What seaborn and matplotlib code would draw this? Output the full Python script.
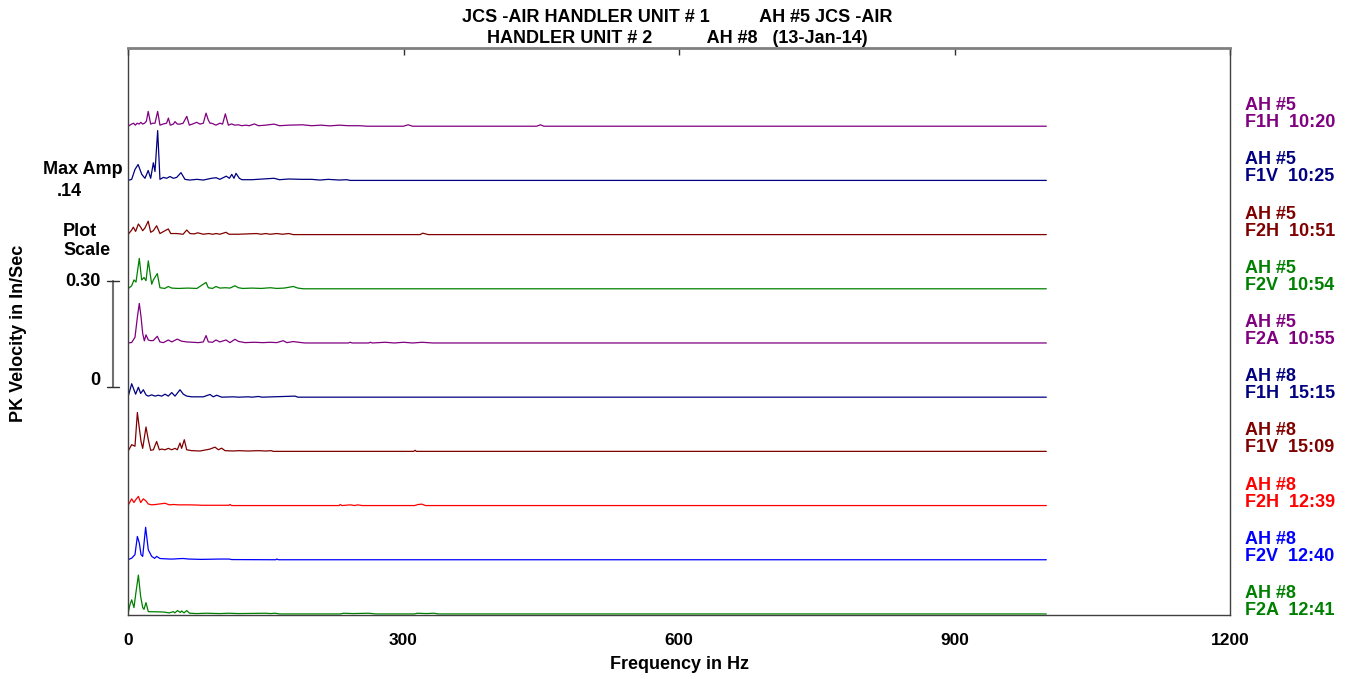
import numpy as np
import pandas as pd
import matplotlib
matplotlib.use("Agg")
import matplotlib.pyplot as plt
import matplotlib.transforms as mtransforms
import seaborn as sns

# ---------------- data (Hz, PK velocity in/s) ----------------
A5_F1H = [(0,0),(4,.006),(6,.0085),(8,.003),(10,.0085),(12,.006),(14,.011),(16,.006),(18,.0085),(20,.014),
          (22,.042),(24.7,.006),(27,.0085),(29.4,.0085),(32.3,.042),(34.8,.003),(38,.006),(42,.0085),(44,.023),
          (46,.003),(49.4,.006),(51.2,.013),(53.7,.006),(56.6,.006),(60,.0085),(64,.028),(66.8,.003),(70,.006),
          (74.8,.011),(78.4,.006),(82,.0085),(85,.037),(87.5,.017),(89.3,.0085),(91.1,.0085),(95.8,.003),(100,.0085),
          (103,.006),(106,.035),(109.3,.003),(112.9,.0065),(116,.003),(120,.004),(124,.0014),(128,.003),(132,.0014),
          (137.6,.0065),(142,.0014),(150,.003),(159,.006),(165,.0014),(175,.003),(190,.004),(200,.0014),(210,.003),
          (220,.001),(230,.003),(240,.0014),(253,.0014),(260,0),(300,0),(305,.004),(310,0),(445,0),(449,.004),
          (453,0),(1000,0)]
A5_F1V = [(0,0),(4,.003),(7.6,.031),(11,.045),(15,.017),(18.5,.006),(22,.028),(24.7,.006),(27.6,.050),(29.4,.025),
          (32.3,.141),(34.8,.003),(38.5,.0085),(42.1,.006),(45.7,.011),(49.4,.006),(53,.0085),(57.7,.022),(62,.003),
          (67,.001),(75,.003),(82,.001),(91,.006),(96,.0076),(100,.003),(107,.012),(110.4,.006),(113,.017),(115.4,.006),
          (117.6,.020),(121.2,.006),(124,.002),(135,.002),(147,.004),(159,.006),(165,.002),(175,.004),(189,.003),
          (200,.003),(209,.001),(218,.003),(230,.001),(238,.002),(242,0),(1000,0)]
A5_F2H = [(0,0),(4,.013),(5.8,.021),(8.3,.009),(11.3,.030),(13.8,.021),(16,.011),(18.5,.019),(22,.038),(24.7,.0065),
          (27.6,.011),(31.2,.025),(34.8,.003),(38.5,.0085),(43.9,.016),(46.5,.003),(53,.003),(60,.001),(64,.013),
          (67.5,.003),(72,.002),(76,.005),(82,.001),(88,.003),(92,.001),(96,.003),(100,.001),(106.7,.0065),(110,.001),
          (120,.001),(140,.003),(145,.001),(150,.003),(155,.001),(162,.003),(168,.001),(175,.003),(180,0),(318,0),
          (321,.004),(324,.002),(327,0),(1000,0)]
A5_F2V = [(0,0),(4,.0085),(6.5,.025),(8.7,.019),(12.3,.086),(14.9,.025),(17.4,.032),(19.6,.023),(22.1,.079),
          (25.8,.013),(27.6,.025),(31.9,.043),(34.8,.003),(40,.001),(43.9,.0065),(47.6,.002),(55,.001),(65,.002),
          (75,.001),(85,.018),(87.5,.003),(92,.001),(95.8,.0065),(100,.002),(106,.003),(111,.002),(116.5,.0085),
          (120.2,.003),(125,.001),(135,.002),(145,.001),(155,.003),(162,.001),(170,.002),(180,.0065),(185,.002),
          (191,0),(1000,0)]
A5_F2A = [(0,0),(4,.0014),(7.6,.016),(10.2,.073),(12.3,.112),(14.2,.074),(16,.027),(17.8,.006),(19.6,.023),
          (22.1,.0085),(24.7,.0065),(27.6,.007),(31.9,.019),(34.8,.003),(38.5,.001),(43.9,.0085),(47.6,.003),
          (53.7,.011),(58.4,.005),(64,.003),(76.6,.001),(82,.003),(85,.021),(87.5,.003),(92,.002),(95.8,.0085),
          (100,.003),(106.7,.0085),(111,.001),(116.5,.0105),(120.2,.0045),(127.4,.001),(137,.002),(147,.001),
          (155,.002),(162,.001),(169,.0065),(173,.001),(180,.004),(189,.001),(193,0),(240,0),(242,.002),(244,0),
          (262,0),(264,.002),(266,0),(280,.002),(290,0),(300,.002),(310,0),(320,.002),(332,0),(1000,0)]
A8_F1H = [(0,0),(4,.038),(6.5,.021),(8.3,.0085),(11.3,.028),(13.8,.0105),(16.7,.021),(19.6,.0065),(22,.003),
          (25.8,.0065),(29.4,.003),(33,.0055),(36.7,.003),(40.3,.0085),(43.9,.003),(47.6,.013),(51.2,.003),
          (56.6,.021),(60.2,.0085),(64,.003),(69.3,.001),(82,.001),(89.3,.0076),(92.9,.001),(96.6,.0055),(102,0),
          (114.7,.001),(120,0),(131,.001),(135,0),(142,.002),(146,0),(182,.003),(185,0),(1000,0)]
A8_F1V = [(0,0),(4,.019),(7.6,.0145),(10.2,.110),(12.3,.066),(14.2,.028),(16,.0085),(19.6,.069),(22.1,.033),
          (24.7,.003),(27.6,.0045),(31.2,.028),(34.1,.0045),(36.7,.0065),(40.3,.0045),(43.9,.0085),(47.6,.0045),
          (51.2,.0085),(53.7,.0045),(56.6,.0235),(58.4,.0085),(61.3,.033),(63.9,.0045),(69.3,.002),(78.4,.001),
          (89.3,.0065),(94.7,.012),(98.4,.0045),(102,.009),(105.6,.002),(114.7,.001),(120,.002),(131,.001),
          (142,.002),(150,.001),(156,.002),(158,0),(311,0),(312.6,.003),(314,0),(1000,0)]
A8_F2H = [(0,0),(4,.019),(6.5,.0085),(8.3,.016),(11.3,.026),(13.8,.0085),(16.7,.019),(19.6,.013),(22,.0045),
          (25.8,.002),(30,.003),(40.3,.0065),(45,.002),(49.4,.003),(55,.002),(60,.002),(66,.002),(75,.0015),
          (80,.0008),(110,.0008),(111,.003),(113,0),(230,0),(231,.003),(233,0),(242,.002),(247,0),(250,.002),
          (255,0),(312,0),(316,.003),(320,.004),(324,0),(1000,0)]
A8_F2V = [(0,0),(4,.0045),(7.6,.0145),(10.2,.066),(12.3,.0475),(14.2,.0145),(16,.0095),(19.2,.092),(22.1,.028),
          (25.8,.0095),(29,.004),(31.2,.0095),(34.8,.0035),(45,.002),(49.4,.002),(55,.003),(60.2,.0035),(66,.002),
          (80,.001),(100,.002),(110,.002),(113,.0005),(161,0),(162,.002),(164,0),(1000,0)]
A8_F2A = [(0,0),(2,.025),(4,.040),(6.5,.018),(8.7,.062),(11.3,.110),(13.8,.049),(16,.018),(17.4,.013),(19.6,.032),
          (22.1,.0065),(31,.006),(38.5,.0055),(45,.003),(49.4,.0065),(51,.003),(54,.0095),(57,.004),(58.4,.0085),
          (61,.003),(64,.0095),(67,.002),(75,.001),(85,.002),(100,.001),(110,.002),(120,.001),(150,.002),(155,.001),
          (160,.002),(165,0),(231,0),(235,.002),(245,.001),(262,.002),(270,0),(312,0),(315,.002),(325,.001),
          (333,.002),(338,0),(1000,0)]

# top to bottom
trace_labels = ["AH #5\nF1H  10:20", "AH #5\nF1V  10:25", "AH #5\nF2H  10:51", "AH #5\nF2V  10:54",
                "AH #5\nF2A  10:55", "AH #8\nF1H  15:15", "AH #8\nF1V  15:09", "AH #8\nF2H  12:39",
                "AH #8\nF2V  12:40", "AH #8\nF2A  12:41"]
trace_data = [A5_F1H, A5_F1V, A5_F2H, A5_F2V, A5_F2A, A8_F1H, A8_F1V, A8_F2H, A8_F2V, A8_F2A]
trace_colors = ["#800080", "#000080", "#800000", "#008000", "#800080",
                "#000080", "#800000", "#FF0000", "#0000FF", "#008000"]

x_ticks = [0, 300, 600, 900, 1200]
max_amp = ".14"
scale_value = 0.30
title = ("JCS -AIR HANDLER UNIT # 1          AH #5 JCS -AIR\n"
         "HANDLER UNIT # 2           AH #8   (13-Jan-14)")

# ---------------- layout ----------------
STEP = 0.1534      # offset between stacked spectra (in/s)
BASE0 = 0.003      # baseline of the bottom spectrum
YMAX = 1.605
SCALE_BOTTOM = 0.645
FS = 13

sns.set_style("white")
plt.rcParams["font.family"] = ["Liberation Sans", "DejaVu Sans"]
plt.rcParams["font.weight"] = "bold"
plt.rcParams["text.color"] = "black"
plt.rcParams["axes.labelcolor"] = "black"
plt.rcParams["xtick.color"] = "black"

n = len(trace_data)
rows = []
for i, (lab, pts) in enumerate(zip(trace_labels, trace_data)):
    base = BASE0 + (n - 1 - i) * STEP
    for f, a in pts:
        rows.append({"trace": lab, "freq": f, "amp": a, "y": a + base})
df = pd.DataFrame(rows)

fig = plt.figure(figsize=(13.47, 6.79), dpi=100)
ax = fig.add_axes([128/1347, 1-615/679, 1102/1347, 567/679])

sns.lineplot(data=df, x="freq", y="y", hue="trace", hue_order=trace_labels,
             palette=dict(zip(trace_labels, trace_colors)), estimator=None, sort=False,
             legend=False, linewidth=0.9, ax=ax)

ax.set_xlim(0, 1200)
ax.set_ylim(0, YMAX)
ax.set_xticks(x_ticks)
ax.set_xticklabels([str(t) for t in x_ticks], fontsize=12.5, fontweight="bold", color="black")
ax.set_yticks([])
ax.tick_params(axis="x", direction="in", top=True, length=5, width=1, color="#303030", pad=13)
ax.set_xlabel("Frequency in Hz", fontsize=FS, fontweight="bold", labelpad=6, color="black")
ax.set_ylabel("")

for side, c, w in [("top", "#808080", 2.0), ("left", "#404040", 1.0),
                   ("right", "#404040", 1.0), ("bottom", "#404040", 1.0)]:
    ax.spines[side].set_visible(True)
    ax.spines[side].set_color(c)
    ax.spines[side].set_linewidth(w)

# right-hand labels
trans = mtransforms.blended_transform_factory(ax.transAxes, ax.transData)
for i, (lab, col) in enumerate(zip(trace_labels, trace_colors)):
    base = BASE0 + (n - 1 - i) * STEP
    ax.text(1.0136, base + 0.034, lab, transform=trans, color=col, fontsize=FS,
            fontweight="bold", ha="left", va="center", linespacing=1.0, clip_on=False)

# plot scale bar
sx, tk = -0.0136, 0.0055
ax.plot([sx, sx], [SCALE_BOTTOM, SCALE_BOTTOM + scale_value], transform=trans,
        color="#707070", lw=1.5, clip_on=False)
for yv in (SCALE_BOTTOM, SCALE_BOTTOM + scale_value):
    ax.plot([sx - tk, sx + tk], [yv, yv], transform=trans, color="#303030", lw=1.0, clip_on=False)
ax.text(-0.0245, SCALE_BOTTOM + scale_value, f"{scale_value:.2f}", transform=trans,
        ha="right", va="center", fontsize=FS, fontweight="bold", clip_on=False)
ax.text(-0.0255, SCALE_BOTTOM + 0.02, "0", transform=trans,
        ha="right", va="center", fontsize=FS, fontweight="bold", clip_on=False)

fig.text(63/1347, 1-241/679, "Plot\nScale", ha="left", va="center", fontsize=FS,
         fontweight="bold", linespacing=1.2)
fig.text(43/1347, 1-170/679, "Max Amp", ha="left", va="center", fontsize=FS, fontweight="bold")
fig.text(57/1347, 1-191/679, max_amp, ha="left", va="center", fontsize=FS, fontweight="bold")
fig.text(19/1347, 1-333/679, "PK Velocity in In/Sec", rotation=90, ha="center", va="center",
         fontsize=FS, fontweight="bold")
fig.text(677/1347, 1-28/679, title, ha="center", va="center", fontsize=FS,
         fontweight="bold", linespacing=1.38)

fig.savefig("out.png", dpi=100)
